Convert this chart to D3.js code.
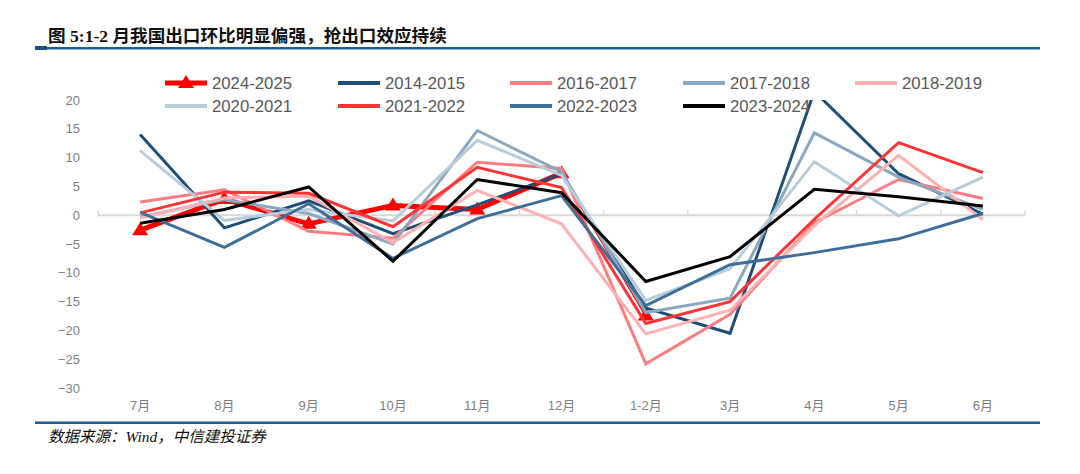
<!DOCTYPE html>
<html><head><meta charset="utf-8">
<script src="https://cdn.jsdelivr.net/npm/d3@7"></script>
<style>body{margin:0;background:#fff;} svg{display:block}</style>
</head><body><svg id="c" width="1080" height="474"></svg>
<script>
// ---- data ----
const categories = ["7月","8月","9月","10月","11月","12月","1-2月","3月","4月","5月","6月"];
const yTicks = [20,15,10,5,0,-5,-10,-15,-20,-25,-30];
const seriesNames = ["2024-2025","2014-2015","2016-2017","2017-2018","2018-2019","2020-2021","2021-2022","2022-2023","2023-2024"];
const s2024_2025 = [-2.6, 2.8, -1.5, 1.7, 1.0, 7.3, -17.4, null, null, null, null];
const s2014_2015 = [14.0, -2.2, 2.5, -3.2, 1.8, 7.2, -16.1, -20.5, 21.5, 7.2, 0.2];
const s2016_2017 = [2.3, 4.4, -2.8, -4.0, 9.2, 8.1, -25.8, -17.2, -1.3, 6.2, 2.9];
const s2017_2018 = [-0.3, 2.7, 0.3, -5.0, 14.7, 7.5, -16.9, -14.4, 14.3, 6.6, 1.0];
const s2018_2019 = [-0.5, 3.0, 3.3, -4.8, 4.3, -1.5, -20.6, -16.5, -1.8, 10.4, -0.8];
const s2020_2021 = [11.2, -0.9, 1.0, -1.0, 13.0, 6.9, -14.8, -9.3, 9.3, -0.1, 6.6];
const s2021_2022 = [0.4, 4.0, 3.8, -2.0, 8.3, 4.8, -18.8, -15.0, -0.7, 12.6, 7.4];
const s2022_2023 = [0.5, -5.6, 2.0, -7.5, -0.6, 3.4, -15.7, -8.6, -6.5, -4.1, 0.3];
const s2023_2024 = [-1.4, 1.0, 4.9, -8.0, 6.2, 3.9, -11.5, -7.2, 4.5, 3.2, 1.6];
const seriesValues = [s2024_2025, s2014_2015, s2016_2017, s2017_2018, s2018_2019, s2020_2021, s2021_2022, s2022_2023, s2023_2024];

// ---- styles ----
const colors = ["#FF0000","#1F4E79","#FF7C80","#8AA8C0","#FFB0B0","#B8CCDA","#FF3333","#3F6F99","#000000"];
const widths = [5,3,3,3,3,3,3,3,3];

const svg = d3.select("#c");
const x = d3.scaleBand().domain(categories).range([98, 1025]).padding(0);
const xc = d => x(d) + x.bandwidth()/2;
const y = d3.scaleLinear().domain([-30, 20]).range([388, 100]);

// title
svg.append("text").attr("x",48).attr("y",41.5)
  .attr("font-family","'Liberation Serif','Noto Sans CJK SC',serif")
  .attr("font-weight","bold").attr("font-size",17.6).attr("fill","#111")
  .text("图 5:1-2 月我国出口环比明显偏强，抢出口效应持续");
svg.append("rect").attr("x",35).attr("y",47).attr("width",1005).attr("height",2.5).attr("fill","#1F5C8F");
svg.append("rect").attr("x",35).attr("y",46).attr("width",12).attr("height",4).attr("fill","#1F4E79");

// bottom rule + source
svg.append("rect").attr("x",35).attr("y",421.5).attr("width",1005).attr("height",2.5).attr("fill","#1F5C8F");
svg.append("text").attr("x",48).attr("y",442)
  .attr("font-family","'Liberation Serif','Noto Sans CJK SC',serif")
  .attr("font-style","italic").attr("font-size",15.5).attr("fill","#111")
  .text("数据来源：Wind，中信建投证券");

// y axis labels
const yAxis = d3.axisLeft(y).tickValues(yTicks).tickSize(0).tickPadding(0);
const ya = svg.append("g").attr("transform","translate(80,0)").call(yAxis);
ya.select(".domain").remove();
ya.selectAll("text").attr("font-family","'Liberation Sans',Arial,sans-serif").attr("font-size",13).attr("fill","#7F7F7F");

// zero axis line with ticks
const xa = svg.append("g").attr("transform",`translate(0,${y(0)})`);
xa.append("line").attr("x1",98).attr("x2",1025).attr("y1",0).attr("y2",0).attr("stroke","#D9D9D9").attr("stroke-width",2);
const bounds = categories.map(c => x(c)).concat([x(categories[categories.length-1]) + x.bandwidth()]);
xa.selectAll("line.tk").data(bounds).enter().append("line").attr("class","tk")
  .attr("x1",d=>d).attr("x2",d=>d).attr("y1",0).attr("y2",-5).attr("stroke","#D9D9D9").attr("stroke-width",1.5);

// x labels
const xb = svg.append("g").attr("transform","translate(0,401)").call(d3.axisBottom(x).tickSize(0).tickPadding(0));
xb.select(".domain").remove();
xb.selectAll("text").attr("font-family","'Liberation Sans','Noto Sans CJK SC',sans-serif").attr("font-size",13).attr("fill","#7F7F7F");

// clip
svg.append("clipPath").attr("id","plot").append("rect").attr("x",90).attr("y",100).attr("width",945).attr("height",300);
const gLines = svg.append("g").attr("clip-path","url(#plot)");

const line = d3.line().defined(d => d.v !== null).x(d => xc(d.c)).y(d => y(d.v));
const tri = "M0,-8L8,5L-8,5Z";

seriesValues.forEach((vals, i) => {
  const pts = vals.map((v, j) => ({c: categories[j], v: v}));
  if (i === 0) {
    const valid = pts.filter(p => p.v !== null);
    const head = valid.slice(0, valid.length - 1);
    const tail = valid.slice(valid.length - 2);
    gLines.append("path").attr("d", line(head)).attr("fill","none").attr("stroke",colors[i]).attr("stroke-width",widths[i]).attr("stroke-linejoin","round");
    gLines.append("path").attr("d", line(tail)).attr("fill","none").attr("stroke",colors[i]).attr("stroke-width",2.5);
    gLines.selectAll("path.m").data(valid).enter().append("path").attr("class","m")
      .attr("d",tri).attr("fill",colors[i])
      .attr("transform",d=>`translate(${xc(d.c)},${y(d.v)})`);
  } else {
    gLines.append("path").attr("d", line(pts)).attr("fill","none").attr("stroke",colors[i]).attr("stroke-width",widths[i]).attr("stroke-linejoin","miter");
  }
});

// legend
const legX = [165, 338, 510, 683, 855];
const legY = [83, 106];
seriesNames.forEach((n, i) => {
  const col = i % 5, row = Math.floor(i / 5);
  const gx = legX[col], gy = legY[row];
  const g = svg.append("g");
  g.append("line").attr("x1",gx).attr("x2",gx+42).attr("y1",gy).attr("y2",gy)
    .attr("stroke",colors[i]).attr("stroke-width", i===0 ? 5 : 4);
  if (i === 0) g.append("path").attr("d",tri).attr("fill",colors[i]).attr("transform",`translate(${gx+21},${gy})`);
  g.append("text").attr("x",gx+47).attr("y",gy).attr("dy","0.36em")
    .attr("font-family","'Liberation Sans',Arial,sans-serif").attr("font-size",17)
    .attr("textLength",80).attr("lengthAdjust","spacingAndGlyphs")
    .attr("fill","#595959").text(n);
});
</script></body></html>
